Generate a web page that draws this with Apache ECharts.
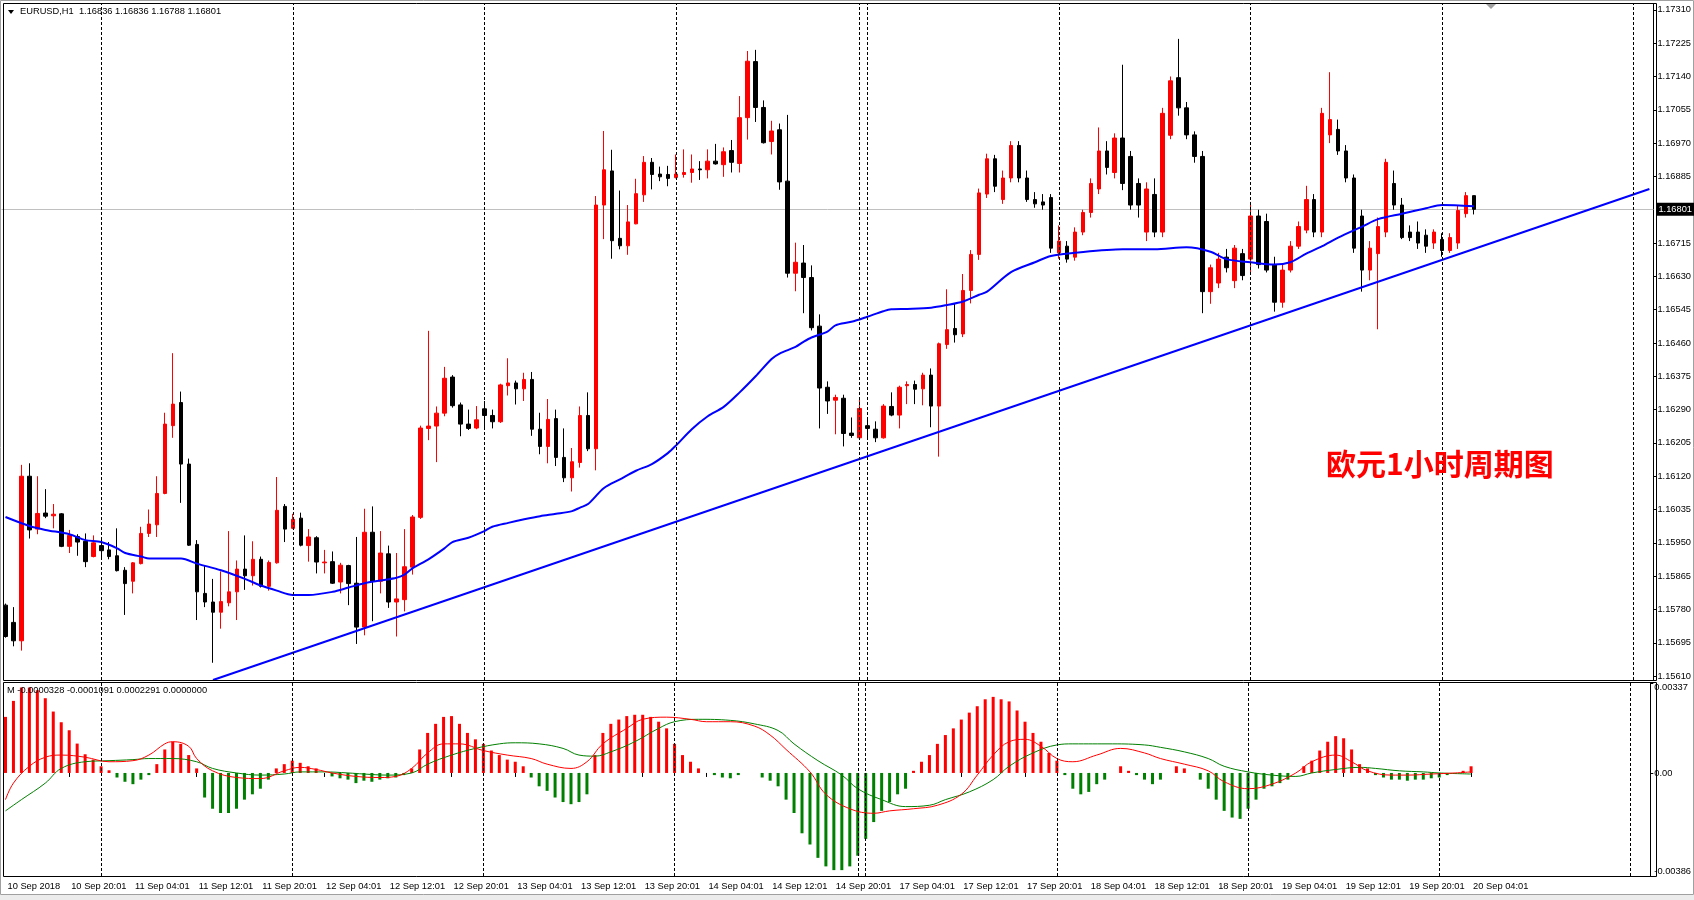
<!DOCTYPE html>
<html>
<head>
<meta charset="utf-8">
<title>EURUSD H1</title>
<script src="https://cdn.jsdelivr.net/npm/echarts@6/dist/echarts.min.js"></script>
<style>
  html, body { margin: 0; padding: 0; background: #fff; }
  #chart { width: 1694px; height: 900px; }
</style>
</head>
<body>
<div id="chart"></div>
<script>
// price scale labels (right axis)
const priceTicks = [1.15610, 1.15695, 1.15780, 1.15865, 1.15950, 1.16035, 1.16120, 1.16205, 1.16290,
  1.16375, 1.16460, 1.16545, 1.16630, 1.16715, 1.16885, 1.16970, 1.17055, 1.17140, 1.17225, 1.17310];
const macdTicks = [-0.00386, 0, 0.00337];

// time axis: one slot per hour bar, the chart is shifted right past the last bar
const slotCount = 207;
const labelBars = [0, 8, 16, 24, 32, 40, 48, 56, 64, 72, 80, 88, 96, 104, 112, 120, 128, 136, 144, 152, 160, 168, 176, 184];
const timeLabels = ['10 Sep 2018', '10 Sep 20:01', '11 Sep 04:01', '11 Sep 12:01', '11 Sep 20:01', '12 Sep 04:01',
  '12 Sep 12:01', '12 Sep 20:01', '13 Sep 04:01', '13 Sep 12:01', '13 Sep 20:01', '14 Sep 04:01', '14 Sep 12:01',
  '14 Sep 20:01', '17 Sep 04:01', '17 Sep 12:01', '17 Sep 20:01', '18 Sep 04:01', '18 Sep 12:01', '18 Sep 20:01',
  '19 Sep 04:01', '19 Sep 12:01', '19 Sep 20:01', '20 Sep 04:01'];
const separatorBars = [12, 36, 60, 84, 107, 108, 132, 156, 180, 204];

// hourly candles: open, high, low, close
const candles = [
  [1.15791, 1.15795, 1.15708, 1.15711], [1.15747, 1.15786, 1.15686, 1.15700], [1.15700, 1.16149, 1.15675, 1.16120],
  [1.16120, 1.16153, 1.15961, 1.15983], [1.15985, 1.16120, 1.15972, 1.16025], [1.16026, 1.16087, 1.16013, 1.16018],
  [1.16019, 1.16049, 1.15987, 1.16023], [1.16024, 1.16026, 1.15939, 1.15941], [1.15941, 1.15983, 1.15924, 1.15969],
  [1.15966, 1.15972, 1.15917, 1.15952], [1.15954, 1.15974, 1.15888, 1.15902], [1.15915, 1.15969, 1.15913, 1.15950],
  [1.15943, 1.15963, 1.15908, 1.15930], [1.15932, 1.15952, 1.15908, 1.15915], [1.15917, 1.15987, 1.15877, 1.15879],
  [1.15880, 1.15888, 1.15766, 1.15846], [1.15852, 1.15901, 1.15821, 1.15899], [1.15897, 1.15991, 1.15895, 1.15974],
  [1.15974, 1.16035, 1.15965, 1.15998], [1.15996, 1.16120, 1.15965, 1.16076], [1.16076, 1.16282, 1.16074, 1.16253],
  [1.16249, 1.16434, 1.16218, 1.16304], [1.16308, 1.16336, 1.16052, 1.16151], [1.16151, 1.16165, 1.15942, 1.15944],
  [1.15946, 1.15957, 1.15753, 1.15825], [1.15821, 1.15891, 1.15786, 1.15799], [1.15799, 1.15858, 1.15644, 1.15773],
  [1.15773, 1.15877, 1.15731, 1.15800], [1.15797, 1.15980, 1.15788, 1.15825], [1.15825, 1.15905, 1.15753, 1.15883],
  [1.15883, 1.15969, 1.15830, 1.15866], [1.15866, 1.15954, 1.15841, 1.15908], [1.15908, 1.15915, 1.15836, 1.15839],
  [1.15839, 1.15905, 1.15828, 1.15900], [1.15899, 1.16118, 1.15897, 1.16033], [1.16043, 1.16049, 1.15952, 1.15985],
  [1.15987, 1.16024, 1.15985, 1.16010], [1.16013, 1.16027, 1.15941, 1.15944], [1.15943, 1.15985, 1.15902, 1.15965],
  [1.15963, 1.15967, 1.15872, 1.15901], [1.15899, 1.15932, 1.15872, 1.15901], [1.15902, 1.15928, 1.15845, 1.15847],
  [1.15850, 1.15899, 1.15821, 1.15893], [1.15892, 1.15894, 1.15791, 1.15846], [1.15847, 1.15965, 1.15692, 1.15735],
  [1.15735, 1.16037, 1.15714, 1.15977], [1.15977, 1.16043, 1.15750, 1.15852], [1.15852, 1.15980, 1.15821, 1.15924],
  [1.15922, 1.15943, 1.15784, 1.15799], [1.15799, 1.15924, 1.15711, 1.15807], [1.15805, 1.15985, 1.15775, 1.15889],
  [1.15888, 1.16021, 1.15869, 1.16016], [1.16015, 1.16249, 1.16011, 1.16243], [1.16242, 1.16491, 1.16212, 1.16248],
  [1.16248, 1.16298, 1.16156, 1.16281], [1.16281, 1.16399, 1.16273, 1.16370], [1.16373, 1.16378, 1.16295, 1.16300],
  [1.16302, 1.16308, 1.16222, 1.16253], [1.16253, 1.16290, 1.16238, 1.16242], [1.16243, 1.16299, 1.16240, 1.16264],
  [1.16292, 1.16312, 1.16245, 1.16275], [1.16275, 1.16290, 1.16242, 1.16259], [1.16259, 1.16356, 1.16256, 1.16353],
  [1.16351, 1.16421, 1.16326, 1.16358], [1.16358, 1.16364, 1.16303, 1.16343], [1.16343, 1.16384, 1.16312, 1.16367],
  [1.16367, 1.16386, 1.16223, 1.16240], [1.16240, 1.16282, 1.16176, 1.16196], [1.16196, 1.16317, 1.16153, 1.16265],
  [1.16267, 1.16290, 1.16146, 1.16168], [1.16168, 1.16242, 1.16105, 1.16116], [1.16116, 1.16192, 1.16081, 1.16157],
  [1.16155, 1.16298, 1.16142, 1.16275], [1.16275, 1.16334, 1.16184, 1.16190], [1.16190, 1.16835, 1.16135, 1.16812],
  [1.16812, 1.17001, 1.16725, 1.16902], [1.16899, 1.16953, 1.16675, 1.16721], [1.16727, 1.16849, 1.16699, 1.16708],
  [1.16708, 1.16812, 1.16685, 1.16769], [1.16764, 1.16879, 1.16763, 1.16841], [1.16838, 1.16937, 1.16820, 1.16921],
  [1.16921, 1.16932, 1.16852, 1.16890], [1.16891, 1.16910, 1.16873, 1.16884], [1.16890, 1.16912, 1.16860, 1.16880],
  [1.16882, 1.16941, 1.16880, 1.16891], [1.16890, 1.16954, 1.16882, 1.16895], [1.16895, 1.16941, 1.16869, 1.16904],
  [1.16904, 1.16924, 1.16876, 1.16902], [1.16902, 1.16954, 1.16880, 1.16924], [1.16924, 1.16968, 1.16915, 1.16917],
  [1.16915, 1.16959, 1.16884, 1.16948], [1.16951, 1.16978, 1.16895, 1.16921], [1.16918, 1.17090, 1.16895, 1.17035],
  [1.17035, 1.17205, 1.16979, 1.17179], [1.17178, 1.17208, 1.17024, 1.17061], [1.17061, 1.17079, 1.16969, 1.16971],
  [1.16974, 1.17027, 1.16941, 1.17001], [1.17004, 1.17020, 1.16851, 1.16871], [1.16873, 1.17042, 1.16627, 1.16638],
  [1.16638, 1.16716, 1.16592, 1.16666], [1.16664, 1.16710, 1.16536, 1.16627], [1.16627, 1.16658, 1.16492, 1.16499],
  [1.16503, 1.16533, 1.16242, 1.16345], [1.16347, 1.16362, 1.16279, 1.16312], [1.16314, 1.16328, 1.16227, 1.16321],
  [1.16319, 1.16328, 1.16196, 1.16229], [1.16230, 1.16270, 1.16218, 1.16224], [1.16218, 1.16320, 1.16215, 1.16293],
  [1.16249, 1.16264, 1.16215, 1.16242], [1.16240, 1.16260, 1.16207, 1.16218], [1.16218, 1.16304, 1.16216, 1.16299],
  [1.16298, 1.16334, 1.16273, 1.16276], [1.16276, 1.16351, 1.16242, 1.16347], [1.16351, 1.16362, 1.16304, 1.16354],
  [1.16354, 1.16364, 1.16304, 1.16342], [1.16343, 1.16384, 1.16301, 1.16378], [1.16378, 1.16395, 1.16245, 1.16299],
  [1.16299, 1.16461, 1.16170, 1.16458], [1.16456, 1.16597, 1.16445, 1.16494], [1.16497, 1.16561, 1.16461, 1.16481],
  [1.16483, 1.16636, 1.16475, 1.16594], [1.16594, 1.16697, 1.16561, 1.16686], [1.16686, 1.16854, 1.16672, 1.16843],
  [1.16840, 1.16943, 1.16830, 1.16930], [1.16930, 1.16940, 1.16845, 1.16860], [1.16826, 1.16900, 1.16815, 1.16881],
  [1.16881, 1.16975, 1.16870, 1.16964], [1.16964, 1.16975, 1.16870, 1.16881], [1.16881, 1.16900, 1.16820, 1.16826],
  [1.16826, 1.16845, 1.16805, 1.16815], [1.16820, 1.16840, 1.16800, 1.16812], [1.16831, 1.16840, 1.16690, 1.16702],
  [1.16690, 1.16760, 1.16675, 1.16720], [1.16707, 1.16720, 1.16665, 1.16674], [1.16679, 1.16755, 1.16670, 1.16743],
  [1.16743, 1.16800, 1.16735, 1.16793], [1.16793, 1.16880, 1.16780, 1.16867], [1.16853, 1.17010, 1.16840, 1.16950],
  [1.16950, 1.16975, 1.16890, 1.16908], [1.16895, 1.16995, 1.16880, 1.16983], [1.16983, 1.17170, 1.16850, 1.16867],
  [1.16936, 1.16950, 1.16800, 1.16812], [1.16867, 1.16880, 1.16780, 1.16812], [1.16743, 1.16870, 1.16720, 1.16853],
  [1.16839, 1.16880, 1.16730, 1.16743], [1.16743, 1.17060, 1.16730, 1.17046], [1.16990, 1.17140, 1.16980, 1.17129],
  [1.17137, 1.17236, 1.17040, 1.17060], [1.17060, 1.17075, 1.16980, 1.16991], [1.16991, 1.17000, 1.16920, 1.16936],
  [1.16936, 1.16950, 1.16536, 1.16591], [1.16591, 1.16660, 1.16560, 1.16652], [1.16613, 1.16690, 1.16600, 1.16674],
  [1.16679, 1.16700, 1.16640, 1.16652], [1.16619, 1.16710, 1.16600, 1.16702], [1.16688, 1.16700, 1.16620, 1.16632],
  [1.16674, 1.16820, 1.16640, 1.16784], [1.16784, 1.16800, 1.16650, 1.16660], [1.16770, 1.16790, 1.16640, 1.16646],
  [1.16660, 1.16680, 1.16540, 1.16564], [1.16564, 1.16660, 1.16550, 1.16646], [1.16646, 1.16720, 1.16640, 1.16707],
  [1.16707, 1.16770, 1.16700, 1.16757], [1.16748, 1.16861, 1.16740, 1.16826], [1.16826, 1.16840, 1.16730, 1.16743],
  [1.16743, 1.17060, 1.16730, 1.17046], [1.16991, 1.17151, 1.16970, 1.17030], [1.17005, 1.17030, 1.16940, 1.16950],
  [1.16950, 1.16965, 1.16870, 1.16881], [1.16881, 1.16890, 1.16690, 1.16702], [1.16784, 1.16800, 1.16591, 1.16646],
  [1.16646, 1.16720, 1.16620, 1.16702], [1.16688, 1.16780, 1.16495, 1.16757], [1.16743, 1.16930, 1.16730, 1.16921],
  [1.16867, 1.16900, 1.16800, 1.16812], [1.16812, 1.16830, 1.16725, 1.16729], [1.16743, 1.16760, 1.16720, 1.16729],
  [1.16743, 1.16770, 1.16700, 1.16715], [1.16735, 1.16750, 1.16690, 1.16707], [1.16715, 1.16750, 1.16700, 1.16743],
  [1.16724, 1.16740, 1.16680, 1.16696], [1.16696, 1.16740, 1.16690, 1.16729], [1.16715, 1.16810, 1.16700, 1.16798],
  [1.16790, 1.16845, 1.16780, 1.16836], [1.16836, 1.16836, 1.16788, 1.16801]
];
const lastPrice = 1.16801;

// moving average: [bar, price]
const maPoints = [[0, 1.16016], [3, 1.15993], [5, 1.15983], [8, 1.15972], [10, 1.15957], [12, 1.15952], [14, 1.15936],
  [15, 1.15924], [17, 1.15915], [18, 1.15910], [22, 1.15910], [24, 1.15897], [27, 1.15880], [30, 1.15858], [32, 1.15841],
  [34, 1.15828], [36, 1.15817], [38, 1.15817], [41, 1.15825], [43, 1.15836], [45, 1.15847], [47, 1.15854], [49, 1.15861],
  [50, 1.15869], [51, 1.15885], [53, 1.15908], [55, 1.15936], [56, 1.15952], [58, 1.15963], [60, 1.15980], [61, 1.15991],
  [63, 1.16001], [65, 1.16010], [67, 1.16018], [69, 1.16024], [71, 1.16031], [72, 1.16040], [73, 1.16049], [75, 1.16090],
  [77, 1.16112], [79, 1.16134], [81, 1.16151], [83, 1.16179], [84, 1.16198], [86, 1.16240], [88, 1.16273], [90, 1.16297],
  [92, 1.16334], [94, 1.16375], [96, 1.16419], [97, 1.16433], [99, 1.16450], [100, 1.16463], [101, 1.16474], [103, 1.16489],
  [104, 1.16505], [106, 1.16514], [108, 1.16527], [110, 1.16541], [111, 1.16546], [113, 1.16547], [116, 1.16550],
  [118, 1.16557], [120, 1.16566], [122, 1.16583], [123, 1.16591], [126, 1.16641], [129, 1.16666], [131, 1.16682],
  [134, 1.16690], [140, 1.16699], [144, 1.16699], [148, 1.16704], [151, 1.16693], [153, 1.16674], [156, 1.16666],
  [159, 1.16660], [161, 1.16666], [163, 1.16688], [165, 1.16707], [167, 1.16729], [170, 1.16757], [172, 1.16776],
  [175, 1.16790], [178, 1.16804], [180, 1.16812], [184, 1.16809]];

// hand drawn support line: [bar, price] at both ends
const trendPoints = [[26, 1.15600], [206.25, 1.16853]];

// MACD histogram, in units of 0.0001
const macdHist = [21, 27, 32, 32, 31, 28, 23, 19, 16, 11, 7, 5, 2.5, 1, -1.7, -3.3, -4.2, -2.5, -0.8, 3.3,
  8.8, 11.7, 10.9, 6.7, 1.7, -9.2, -13.4, -15, -15, -13.4, -10, -8, -5.9, -2.5, 1.7, 3.3, 4.6, 3.8, 2.5, 1.7,
  0, -1.3, -2, -2.5, -3.8, -2.9, -3.3, -2.5, -2, -1.7, -0.8, 1.7, 8.8, 15, 18.4, 21, 21.3, 18.4, 15, 12.6,
  10.9, 8.4, 6.7, 5, 4.2, 2.5, -1.7, -5, -6.7, -9.2, -10.9, -11.7, -10.9, -8, 6.7, 15, 18.4, 20, 21.3, 21.8,
  21.8, 21, 19.2, 16.7, 10.9, 6.7, 4.2, 1.7, 0, -0.8, -1.7, -2, -0.8, 0, 0, -1.7, -2.9, -5, -10, -15,
  -22.6, -26.8, -31.8, -35, -36.4, -36.4, -35, -31, -24.7, -18.4, -14.2, -10.9, -8, -5.9, 0.8, 4.2, 6.7, 10.9, 14.2, 16.7,
  20, 22.6, 25, 27.6, 28.5, 27.6, 26.8, 23.4, 19.2, 15, 11.7, 7.5, 4.6, -0.8, -5.9, -8, -7.1, -4.2, -2.5, 0,
  2.5, 0.8, -0.8, -2.5, -4.2, -2.5, 0, 2.5, 1.7, 0, -2.5, -5.9, -10, -14.2, -16.7, -17.2, -13.4, -10, -5.9, -5,
  -3.8, -2.5, 0, 2.5, 4.6, 8.4, 11.7, 13.8, 13, 8.8, 3.3, 1.7, -0.8, -1.7, -2.5, -2.5, -2.9, -2.5, -2.5, -2,
  -1.7, -0.8, 0, 0.8, 2.5];
// MACD lines, [bar, value in 0.0001]
const macdFast = [[0, -10], [1, -3.8], [3, 2.5], [5, 5.9], [7, 6.7], [10, 5.9], [13, 4.2], [16, 4.6], [18, 6.7],
  [20, 10.9], [21, 11.7], [23, 10], [24, 5.4], [26, 0.8], [29, -1.7], [32, -2.1], [35, 0.8], [37, 2.1], [39, 1.3],
  [41, 0], [44, -1.3], [47, -1.7], [49, -1.3], [51, 1.7], [53, 7.5], [55, 10.9], [57, 10.9], [60, 8.4], [63, 6.7],
  [66, 5.4], [68, 3.3], [71, 1.7], [73, 4.2], [75, 10.9], [78, 16.7], [80, 20.1], [83, 20.9], [86, 20.1], [88, 19.2],
  [91, 19.2], [94, 17.6], [96, 14.2], [98, 8.8], [101, 0.4], [103, -8], [106, -13.4], [109, -15.1], [111, -14.2],
  [114, -13.4], [117, -12.1], [120, -8], [122, -0.8], [124, 6.7], [126, 11.7], [128, 12.6], [130, 10], [132, 5.4],
  [134, 4.2], [137, 6.7], [140, 9.2], [143, 7.5], [145, 5.4], [148, 3.3], [151, 0.8], [153, -3.3], [156, -5.9],
  [159, -4.2], [162, 0], [164, 4.2], [167, 6.7], [169, 4.2], [171, 0.8], [174, -0.8], [176, -0.8], [179, -0.4],
  [182, 0], [184, 0.4]];
const macdSlow = [[0, -14.2], [2, -10], [5, -3.8], [7, 1.7], [10, 4.2], [13, 4.6], [16, 5], [18, 5.4], [21, 5.4],
  [24, 4.2], [26, 1.7], [29, 0], [32, -0.8], [35, -0.4], [37, 0.4], [40, 0.4], [43, 0], [45, -0.4], [48, -0.8],
  [51, 0], [53, 3.3], [56, 6.7], [59, 9.2], [62, 10.9], [64, 11.3], [67, 10.9], [70, 9.2], [72, 6.7], [74, 6.3],
  [76, 7.9], [79, 11.7], [82, 16.7], [84, 19.2], [87, 20.1], [91, 19.7], [94, 18.4], [97, 15.9], [99, 10.9],
  [102, 4.6], [105, -0.8], [107, -5.9], [110, -10], [113, -12.6], [116, -12.1], [118, -10], [121, -7.1],
  [124, -2.5], [126, 2.5], [129, 7.5], [132, 10.5], [134, 10.9], [139, 10.9], [143, 10.5], [145, 9.6], [148, 7.9],
  [151, 5.4], [153, 2.5], [156, 0.4], [159, -0.8], [162, -1.3], [164, 0], [167, 1.3], [170, 2.1], [172, 1.7],
  [175, 0.8], [178, 0.4], [180, 0], [184, -0.4]];

const FONT = 'Liberation Sans';
const slots = Array.from({ length: slotCount }, (_, i) => String(i));
const labelAt = new Map(labelBars.map((b, i) => [b, timeLabels[i]]));
const sepLines = separatorBars.map(b => ({ xAxis: b }));
const sepStyle = { color: '#000', width: 1, type: [3, 2] };

const chart = echarts.init(document.getElementById('chart'));
const option = {
  animation: false,
  backgroundColor: '#fff',
  grid: [
    { left: 1.5, top: 4, width: 1656, height: 676, show: false },
    { left: 1.5, top: 683, width: 1656, height: 193, show: false }
  ],
  xAxis: [
    {
      type: 'category', gridIndex: 0, data: slots, boundaryGap: true,
      axisLine: { show: false }, axisTick: { show: false }, axisLabel: { show: false }, splitLine: { show: false }
    },
    {
      type: 'category', gridIndex: 1, data: slots, boundaryGap: true,
      axisLine: { show: false },
      axisTick: { show: true, alignWithLabel: true, length: 4, interval: i => i > 0 && labelAt.has(i), lineStyle: { color: '#000' } },
      axisLabel: {
        interval: i => labelAt.has(i), formatter: (v, i) => labelAt.get(i), align: 'left', margin: 6,
        padding: [0, 0, 0, 2], fontFamily: FONT, fontSize: 9.3, color: '#000'
      },
      splitLine: { show: false }
    }
  ],
  yAxis: [
    {
      type: 'value', gridIndex: 0, position: 'right', min: 1.15600, max: 1.17325, scale: true,
      axisLine: { show: true, lineStyle: { color: '#000' } },
      axisTick: { show: true, length: 3, customValues: priceTicks, lineStyle: { color: '#000' } },
      axisLabel: { customValues: priceTicks, formatter: v => v.toFixed(5), margin: 4, fontFamily: FONT, fontSize: 9.3, color: '#000' },
      splitLine: { show: false }
    },
    {
      type: 'value', gridIndex: 1, position: 'right', min: -0.00386, max: 0.00337,
      axisLine: { show: true, lineStyle: { color: '#000' } },
      axisTick: { show: true, length: 3, customValues: macdTicks, lineStyle: { color: '#000' } },
      axisLabel: {
        customValues: macdTicks, formatter: v => (v === 0 ? '0.00' : v.toFixed(5)), margin: 4,
        verticalAlignMinLabel: 'bottom', verticalAlignMaxLabel: 'top',
        fontFamily: FONT, fontSize: 9.3, color: '#000'
      },
      splitLine: { show: false }
    }
  ],
  series: [
    {
      type: 'candlestick', xAxisIndex: 0, yAxisIndex: 0, barWidth: 4,
      data: candles.map(c => [c[0], c[3], c[2], c[1]]),
      itemStyle: { color: '#ff0000', color0: '#000000', borderColor: '#ff0000', borderColor0: '#000000', borderWidth: 1 },
      markLine: { silent: true, symbol: 'none', label: { show: false }, lineStyle: sepStyle, data: sepLines }
    },
    {
      type: 'line', xAxisIndex: 0, yAxisIndex: 0, data: maPoints, showSymbol: false, symbol: 'none', smooth: 0.3,
      lineStyle: { color: '#0000ff', width: 2 }, z: 3
    },
    {
      type: 'line', xAxisIndex: 0, yAxisIndex: 0, data: trendPoints, showSymbol: false, symbol: 'none',
      lineStyle: { color: '#0000ff', width: 2 }, z: 3,
      markLine: {
        silent: true, symbol: 'none', precision: 5, z: 1,
        lineStyle: { color: '#c0c0c0', width: 1, type: 'solid' },
        label: { show: true, position: 'end', distance: 3, formatter: lastPrice.toFixed(5), color: '#fff', backgroundColor: '#000',
          padding: [2, 4, 2, 2], fontFamily: FONT, fontSize: 9.3 },
        data: [{ yAxis: lastPrice }]
      }
    },
    {
      type: 'bar', xAxisIndex: 1, yAxisIndex: 1, barWidth: 3,
      data: macdHist.map(v => ({ value: v / 10000, itemStyle: { color: v >= 0 ? '#ff0000' : '#008000' } })),
      markLine: { silent: true, symbol: 'none', label: { show: false }, lineStyle: sepStyle, data: sepLines }
    },
    {
      type: 'line', xAxisIndex: 1, yAxisIndex: 1, data: macdSlow.map(p => [p[0], p[1] / 10000]), showSymbol: false,
      symbol: 'none', smooth: 0.4, lineStyle: { color: '#008000', width: 1 }, z: 4
    },
    {
      type: 'line', xAxisIndex: 1, yAxisIndex: 1, data: macdFast.map(p => [p[0], p[1] / 10000]), showSymbol: false,
      symbol: 'none', smooth: 0.4, lineStyle: { color: '#ff0000', width: 1 }, z: 4
    }
  ],
  graphic: [
    { type: 'rect', shape: { x: 0.5, y: 0.5, width: 1693, height: 894 }, style: { fill: 'none', stroke: '#a0a0a0', lineWidth: 1 }, silent: true },
    { type: 'rect', shape: { x: 0, y: 895, width: 1694, height: 5 }, style: { fill: '#ececec' }, silent: true },
    { type: 'rect', shape: { x: 3.5, y: 3.5, width: 1653, height: 677 }, style: { fill: 'none', stroke: '#000', lineWidth: 1 }, z: 10, silent: true },
    { type: 'rect', shape: { x: 3.5, y: 682.5, width: 1653, height: 194 }, style: { fill: 'none', stroke: '#000', lineWidth: 1 }, z: 10, silent: true },
    { type: 'polygon', shape: { points: [[8, 10], [14, 10], [11, 14]] }, style: { fill: '#000' }, z: 10, silent: true },
    { type: 'polygon', shape: { points: [[1486, 4], [1496, 4], [1491, 9]] }, style: { fill: '#a0a0a0' }, z: 10, silent: true },
    { type: 'text', left: 20, top: 7, z: 10, silent: true,
      style: { text: 'EURUSD,H1  1.16836 1.16836 1.16788 1.16801', font: '9.3px "Liberation Sans"', fill: '#000' } },
    { type: 'text', left: 7, top: 686, z: 10, silent: true,
      style: { text: 'M -0.0000328 -0.0001091 0.0002291 0.0000000', font: '9.3px "Liberation Sans"', fill: '#000' } },
    { type: 'text', left: 1326, top: 449, z: 10, silent: true,
      style: { text: '欧元1小时周期图', font: 'bold 30px "Noto Sans CJK SC"', fill: '#ff0000' } }
  ]
};
chart.setOption(option);
</script>
</body>
</html>
